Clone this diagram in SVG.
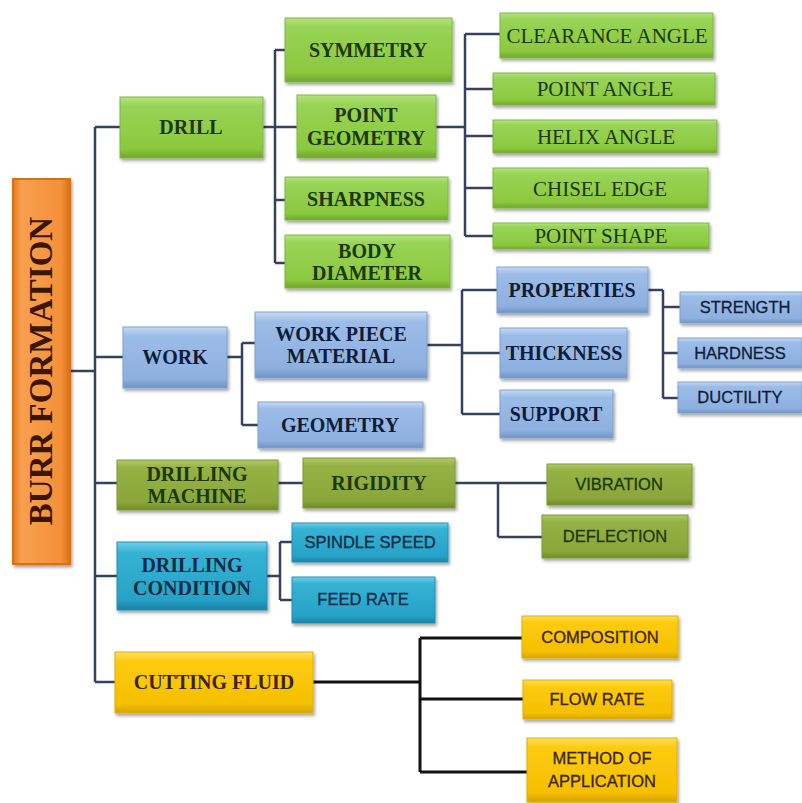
<svg xmlns="http://www.w3.org/2000/svg" width="802" height="803" viewBox="0 0 802 803">
<defs>
<linearGradient id="gGreen" x1="0" y1="0" x2="0" y2="1"><stop offset="0" stop-color="#b4e47c"/><stop offset="0.15" stop-color="#98d456"/><stop offset="0.85" stop-color="#8cc83e"/><stop offset="1" stop-color="#6fa62c"/></linearGradient>
<linearGradient id="gBlue" x1="0" y1="0" x2="0" y2="1"><stop offset="0" stop-color="#c6daf4"/><stop offset="0.15" stop-color="#9cbce8"/><stop offset="0.85" stop-color="#8eb0df"/><stop offset="1" stop-color="#6f93c4"/></linearGradient>
<linearGradient id="gOlive" x1="0" y1="0" x2="0" y2="1"><stop offset="0" stop-color="#b2ca6a"/><stop offset="0.15" stop-color="#96b244"/><stop offset="0.85" stop-color="#8aa63a"/><stop offset="1" stop-color="#6f8a28"/></linearGradient>
<linearGradient id="gTeal" x1="0" y1="0" x2="0" y2="1"><stop offset="0" stop-color="#6fd0ea"/><stop offset="0.15" stop-color="#35b2d4"/><stop offset="0.85" stop-color="#27a2c6"/><stop offset="1" stop-color="#1a82a6"/></linearGradient>
<linearGradient id="gYellow" x1="0" y1="0" x2="0" y2="1"><stop offset="0" stop-color="#ffe060"/><stop offset="0.15" stop-color="#fdcb10"/><stop offset="0.85" stop-color="#f5c000"/><stop offset="1" stop-color="#d9a200"/></linearGradient>
<linearGradient id="gOrange" x1="0" y1="0" x2="1" y2="0"><stop offset="0" stop-color="#e47a1e"/><stop offset="0.15" stop-color="#f7a050"/><stop offset="0.85" stop-color="#f59038"/><stop offset="1" stop-color="#d66e14"/></linearGradient>
<filter id="sh" x="-10%" y="-10%" width="125%" height="140%"><feDropShadow dx="1.5" dy="2.5" stdDeviation="1.8" flood-color="#000" flood-opacity="0.35"/></filter>
</defs>
<style>
.box{filter:url(#sh);stroke-width:1}
.green{fill:url(#gGreen);stroke:#7cb840}
.blue{fill:url(#gBlue);stroke:#7fa2d2}
.olive{fill:url(#gOlive);stroke:#7f9a34}
.teal{fill:url(#gTeal);stroke:#2192b6}
.yellow{fill:url(#gYellow);stroke:#e0b000}
.orange{fill:url(#gOrange);stroke:#d87018;stroke-width:2}
.sb{font-family:"Liberation Serif","Times New Roman",serif;font-weight:bold;font-size:20px;text-anchor:middle}
.sr{font-family:"Liberation Serif","Times New Roman",serif;font-size:21px;text-anchor:middle}
.ss{font-family:"Liberation Sans",Arial,sans-serif;font-size:16.5px;text-anchor:middle;stroke-width:0.3}
.tg{fill:#1c3808;stroke:#1c3808}
.tb{fill:#0e1c38;stroke:#0e1c38}
.tt{fill:#0c2a44;stroke:#0c2a44}
.ty{fill:#3a2400;stroke:#3a2400}
.to{fill:#3a1600}
.sb,.sr{stroke:none}
.conn path{fill:none;stroke:#34425f;stroke-width:2.5}
.conn path.k{stroke:#111;stroke-width:3}
</style>
<rect width="802" height="803" fill="#fff"/>
<g class="conn">
<path d="M70,371 H95 M95,127 V682 M95,127 H120 M95,357 H123 M95,483 H117 M95,576 H117 M95,682 H115"/>
<path d="M263,127 H297 M275,50 V263 M275,50 H285 M275,200 H285 M275,263 H285"/>
<path d="M436,127 H465 M465,34 V236 M465,34 H500 M465,89 H493 M465,136 H493 M465,188 H493 M465,236 H493"/>
<path d="M227,357 H242 M242,343 V425 M242,343 H255 M242,425 H258"/>
<path d="M427,345 H462 M462,290 V414 M462,290 H497 M462,353 H500 M462,414 H500"/>
<path d="M648,290 H663 M663,290 V398 M663,307 H680 M663,353 H678 M663,398 H678"/>
<path d="M278,483 H303 M455,483 H498 M498,483 V537 M498,483 H547 M498,537 H542"/>
<path d="M267,576 H280 M280,542 V600 M280,542 H292 M280,600 H292"/>
<path class="k" d="M313,682 H420 M420,638 V772 M420,638 H522 M420,699 H523 M420,772 H527"/>
</g>
<g id="burr-formation"><rect class="box orange" x="13" y="179" width="57" height="385"/><text class="sb to" style="font-size:33px" transform="translate(52,371) rotate(-90)">BURR FORMATION</text></g>
<g id="drill"><rect class="box green" x="120" y="97" width="143" height="61"/><text class="sb tg" x="191" y="134">DRILL</text></g>
<g id="symmetry"><rect class="box green" x="285" y="18" width="167" height="64"/><text class="sb tg" x="368" y="57">SYMMETRY</text></g>
<g id="point-geometry"><rect class="box green" x="297" y="95" width="139" height="63"/><text class="sb tg" x="366" y="122">POINT</text><text class="sb tg" x="366" y="145">GEOMETRY</text></g>
<g id="sharpness"><rect class="box green" x="285" y="177" width="163" height="43"/><text class="sb tg" x="366" y="206">SHARPNESS</text></g>
<g id="body-diameter"><rect class="box green" x="285" y="235" width="165" height="53"/><text class="sb tg" x="367" y="258">BODY</text><text class="sb tg" x="367" y="280">DIAMETER</text></g>
<g id="clearance-angle"><rect class="box green" x="500" y="13" width="213" height="45"/><text class="sr tg" x="607" y="43">CLEARANCE ANGLE</text></g>
<g id="point-angle"><rect class="box green" x="493" y="73" width="222" height="32"/><text class="sr tg" x="605" y="96">POINT ANGLE</text></g>
<g id="helix-angle"><rect class="box green" x="493" y="120" width="224" height="33"/><text class="sr tg" x="606" y="144">HELIX ANGLE</text></g>
<g id="chisel-edge"><rect class="box green" x="493" y="168" width="215" height="40"/><text class="sr tg" x="600" y="196">CHISEL EDGE</text></g>
<g id="point-shape"><rect class="box green" x="493" y="223" width="216" height="26"/><text class="sr tg" x="601" y="243">POINT SHAPE</text></g>
<g id="work"><rect class="box blue" x="123" y="327" width="104" height="61"/><text class="sb tb" x="175" y="364">WORK</text></g>
<g id="work-piece-material"><rect class="box blue" x="255" y="312" width="172" height="66"/><text class="sb tb" x="341" y="341">WORK PIECE</text><text class="sb tb" x="341" y="363">MATERIAL</text></g>
<g id="geometry"><rect class="box blue" x="258" y="402" width="165" height="46"/><text class="sb tb" x="340" y="432">GEOMETRY</text></g>
<g id="properties"><rect class="box blue" x="497" y="267" width="151" height="46"/><text class="sb tb" x="572" y="297">PROPERTIES</text></g>
<g id="thickness"><rect class="box blue" x="500" y="328" width="127" height="50"/><text class="sb tb" x="564" y="360">THICKNESS</text></g>
<g id="support"><rect class="box blue" x="500" y="390" width="113" height="48"/><text class="sb tb" x="556" y="421">SUPPORT</text></g>
<g id="strength"><rect class="box blue" x="680" y="292" width="122" height="31"/><text class="ss tb" x="745" y="313">STRENGTH</text></g>
<g id="hardness"><rect class="box blue" x="678" y="338" width="124" height="30"/><text class="ss tb" x="740" y="359">HARDNESS</text></g>
<g id="ductility"><rect class="box blue" x="678" y="382" width="124" height="31"/><text class="ss tb" x="740" y="403">DUCTILITY</text></g>
<g id="drilling-machine"><rect class="box olive" x="117" y="460" width="161" height="50"/><text class="sb tg" x="197" y="481">DRILLING</text><text class="sb tg" x="197" y="503">MACHINE</text></g>
<g id="rigidity"><rect class="box olive" x="303" y="458" width="152" height="50"/><text class="sb tg" x="379" y="490">RIGIDITY</text></g>
<g id="vibration"><rect class="box olive" x="547" y="464" width="145" height="41"/><text class="ss tg" x="619" y="490">VIBRATION</text></g>
<g id="deflection"><rect class="box olive" x="542" y="515" width="146" height="43"/><text class="ss tg" x="615" y="542">DEFLECTION</text></g>
<g id="drilling-condition"><rect class="box teal" x="117" y="542" width="150" height="68"/><text class="sb tt" x="192" y="572">DRILLING</text><text class="sb tt" x="192" y="595">CONDITION</text></g>
<g id="spindle-speed"><rect class="box teal" x="292" y="523" width="156" height="39"/><text class="ss tt" x="370" y="548">SPINDLE SPEED</text></g>
<g id="feed-rate"><rect class="box teal" x="292" y="577" width="143" height="46"/><text class="ss tt" x="363" y="605">FEED RATE</text></g>
<g id="cutting-fluid"><rect class="box yellow" x="115" y="652" width="198" height="61"/><text class="sb ty" x="214" y="689">CUTTING FLUID</text></g>
<g id="composition"><rect class="box yellow" x="522" y="616" width="156" height="42"/><text class="ss ty" x="600" y="643">COMPOSITION</text></g>
<g id="flow-rate"><rect class="box yellow" x="523" y="680" width="149" height="39"/><text class="ss ty" x="597" y="705">FLOW RATE</text></g>
<g id="method-of-application"><rect class="box yellow" x="527" y="738" width="150" height="64"/><text class="ss ty" x="602" y="764">METHOD OF</text><text class="ss ty" x="602" y="787">APPLICATION</text></g>
</svg>
